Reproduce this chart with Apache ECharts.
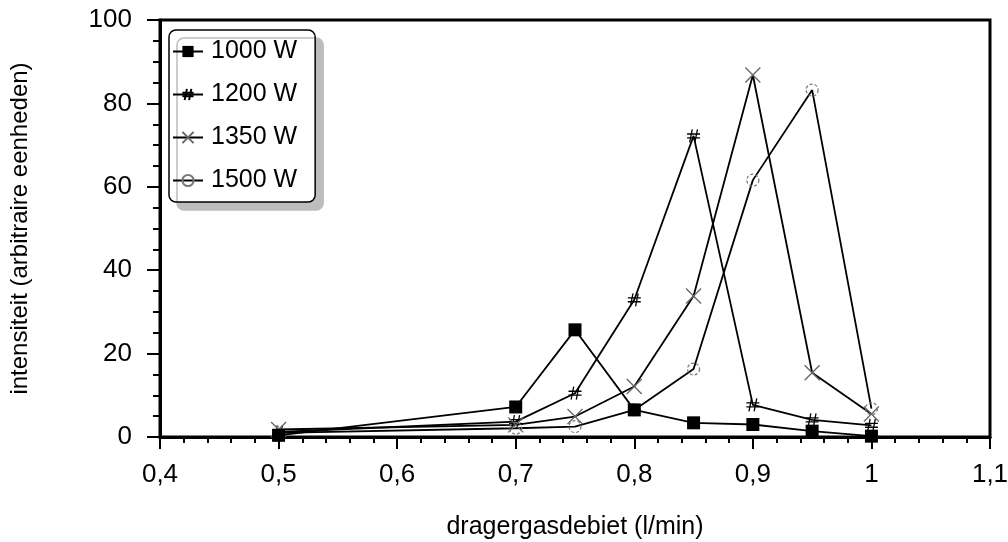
<!DOCTYPE html>
<html>
<head>
<meta charset="utf-8">
<script src="https://cdn.jsdelivr.net/npm/echarts@6/dist/echarts.min.js"></script>
<style>html,body{margin:0;padding:0;background:#fff}#c{width:1008px;height:542px}</style>
</head>
<body>
<div id="c"></div>
<script>
const flowRates = [0.5, 0.7, 0.75, 0.8, 0.85, 0.9, 0.95, 1.0];
const w1000 = [0.4, 7.2, 25.7, 6.5, 3.4, 3.0, 1.4, 0.2];
const w1200 = [1.2, 3.7, 10.5, 32.9, 72.2, 7.7, 4.1, 2.8];
const w1350 = [1.8, 2.9, 4.9, 12.1, 33.8, 86.8, 15.4, 5.5];
const w1500 = [1.0, 2.1, 2.5, 6.5, 16.3, 61.6, 83.2, 6.8];
const seriesNames = ['1000 W', '1200 W', '1350 W', '1500 W'];
const xTitle = 'dragergasdebiet (l/min)';
const yTitle = 'intensiteit (arbitraire eenheden)';

const FONT = 'Liberation Sans, Arial, sans-serif';
const pairs = arr => flowRates.map((x, i) => [x, arr[i]]);
const fmtX = v => { const r = Math.round(v * 10) / 10; return String(r).replace('.', ','); };

const chart = echarts.init(document.getElementById('c'), null, {renderer: 'canvas'});
const lineStyle = {color: '#000', width: 1.8};

chart.setOption({
  animation: false,
  backgroundColor: '#fff',
  grid: {left: 160, right: 18, top: 20, bottom: 105, show: true, borderColor: '#000', borderWidth: 3,
         containLabel: false, outerBoundsMode: 'none'},
  legend: {
    left: 169, top: 30, orient: 'vertical',
    padding: [9, 18, 9, 3],
    itemWidth: 30, itemHeight: 14, itemGap: 18,
    backgroundColor: '#fff', borderColor: '#000', borderWidth: 1.5, borderRadius: 7,
    shadowColor: '#bdbdbd', shadowBlur: 0, shadowOffsetX: 8, shadowOffsetY: 8,
    textStyle: {fontFamily: FONT, fontSize: 25, color: '#000', lineHeight: 25, padding: [0, 0, 0, 3]},
    data: seriesNames
  },
  xAxis: {
    type: 'value', min: 0.4, max: 1.1, interval: 0.1,
    name: xTitle, nameLocation: 'middle', nameGap: 78,
    nameTextStyle: {fontFamily: FONT, fontSize: 25, color: '#000'},
    axisLine: {show: true, onZero: false, lineStyle: {color: '#000', width: 3}},
    axisTick: {show: true, inside: false, length: 12, lineStyle: {color: '#000', width: 2}},
    minorTick: {show: true, splitNumber: 5, length: 6, lineStyle: {color: '#000', width: 2}},
    axisLabel: {fontFamily: FONT, fontSize: 26, color: '#000', margin: 25, formatter: fmtX},
    splitLine: {show: false}
  },
  yAxis: {
    type: 'value', min: 0, max: 100, interval: 20,
    name: yTitle, nameLocation: 'middle', nameGap: 128, nameRotate: 90,
    nameTextStyle: {fontFamily: FONT, fontSize: 24, color: '#000'},
    axisLine: {show: true, onZero: false, lineStyle: {color: '#000', width: 3}},
    axisTick: {show: true, inside: false, length: 13, lineStyle: {color: '#000', width: 2}},
    minorTick: {show: true, splitNumber: 4, length: 7, lineStyle: {color: '#000', width: 2}},
    axisLabel: {fontFamily: FONT, fontSize: 26, color: '#000', margin: 28},
    splitLine: {show: false}
  },
  series: [
    {
      name: seriesNames[0], type: 'line', data: pairs(w1000), z: 5,
      symbol: 'rect', symbolSize: 13, showAllSymbol: true,
      lineStyle: lineStyle, itemStyle: {color: '#000', borderColor: '#000', borderWidth: 0}
    },
    {
      name: seriesNames[1], type: 'line', data: pairs(w1200), z: 3,
      symbol: 'path://M4,0 L2,10 M8,0 L6,10 M0,3.5 L10,3.5 M0,6.5 L10,6.5', symbolSize: 13,
      lineStyle: lineStyle, itemStyle: {color: 'rgba(0,0,0,0)', borderColor: '#000', borderWidth: 1.3}
    },
    {
      name: seriesNames[2], type: 'line', data: pairs(w1350), z: 3,
      symbol: 'path://M0,0 L10,10 M10,0 L0,10', symbolSize: 15,
      lineStyle: lineStyle, itemStyle: {color: 'rgba(0,0,0,0)', borderColor: '#666', borderWidth: 1.3}
    },
    {
      name: seriesNames[3], type: 'line', data: pairs(w1500), z: 3,
      symbol: 'circle', symbolSize: 12,
      lineStyle: lineStyle, itemStyle: {color: 'rgba(0,0,0,0)', borderColor: '#777', borderWidth: 1.2, borderType: [3, 2]}
    }
  ]
});
</script>
</body>
</html>
